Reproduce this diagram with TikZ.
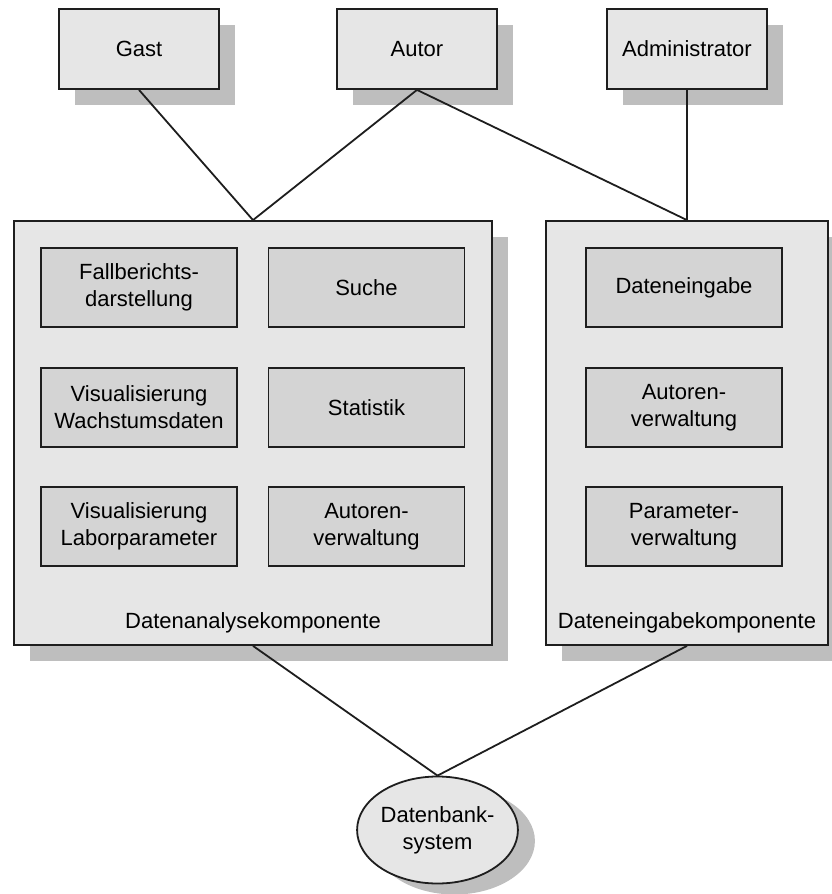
\documentclass[tikz,border=0pt]{standalone}
\usepackage{fontspec}
\setmainfont{Liberation Sans}
\usetikzlibrary{shadows,shapes.geometric}
\definecolor{outerfill}{HTML}{E6E6E6}
\definecolor{innerfill}{HTML}{D4D4D4}
\definecolor{shadowgray}{HTML}{BEBEBE}
\definecolor{inkline}{HTML}{1E1E1E}
\tikzset{
  boxshadow/.style={general shadow={shadow xshift=16pt, shadow yshift=-16pt, fill=shadowgray, opacity=1}},
  actor/.style={draw=inkline, line width=1.8pt, fill=outerfill, minimum width=160pt, minimum height=80pt,
                inner sep=0pt, boxshadow, font=\fontsize{22}{27}\selectfont, align=center},
  component/.style={draw=inkline, line width=1.8pt, fill=outerfill, inner sep=0pt, boxshadow},
  module/.style={draw=inkline, line width=1.8pt, fill=innerfill, minimum width=196pt, minimum height=79pt,
                 inner sep=0pt, font=\fontsize{22}{27}\selectfont, align=center},
  caption/.style={font=\fontsize{22}{27}\selectfont, inner sep=0pt},
  link/.style={draw=inkline, line width=1.8pt},
  dbnode/.style={ellipse, draw=inkline, line width=1.8pt, fill=outerfill, minimum width=145pt, minimum height=107pt,
                 inner sep=0pt, font=\fontsize{22}{27}\selectfont, align=center,
                 general shadow={shadow xshift=17pt, shadow yshift=-11pt, fill=shadowgray, opacity=1}}
}
\begin{document}
\begin{tikzpicture}[x=1pt, y=-1pt]
\useasboundingbox (0,0) rectangle (832,894);

% user roles
\node[actor] (gast)  at (139,49) {Gast};
\node[actor] (autor) at (417,49) {Autor};
\node[actor] (admin) at (687,49) {Administrator};

% components
\node[component, minimum width=478pt, minimum height=424pt] (ana) at (253,433) {};
\node[component, minimum width=282pt, minimum height=424pt] (ein) at (687,433) {};

% modules of the analysis component
\node[module] (m11) at (139,287.5)   {Fallberichts-\\darstellung};
\node[module] (m12) at (366.5,287.5) {Suche};
\node[module] (m21) at (139,407.5)   {Visualisierung\\Wachstumsdaten};
\node[module] (m22) at (366.5,407.5) {Statistik};
\node[module] (m31) at (139,526.5)   {Visualisierung\\Laborparameter};
\node[module] (m32) at (366.5,526.5) {Autoren-\\verwaltung};
\node[caption] (anacap) at (253,623) {Datenanalysekomponente};

% modules of the input component
\node[module] (e1) at (684,287.5) {Dateneingabe};
\node[module] (e2) at (684,407.5) {Autoren-\\verwaltung};
\node[module] (e3) at (684,526.5) {Parameter-\\verwaltung};
\node[caption] (eincap) at (687,623) {Dateneingabekomponente};

% database
\node[dbnode] (db) at (437.5,830) {Datenbank-\\system};

% connections
\draw[link] (gast.south)  -- (ana.north);
\draw[link] (autor.south) -- (ana.north);
\draw[link] (autor.south) -- (ein.north);
\draw[link] (admin.south) -- (ein.north);
\draw[link] (ana.south) -- (db.north);
\draw[link] (ein.south) -- (db.north);
\end{tikzpicture}
\end{document}
